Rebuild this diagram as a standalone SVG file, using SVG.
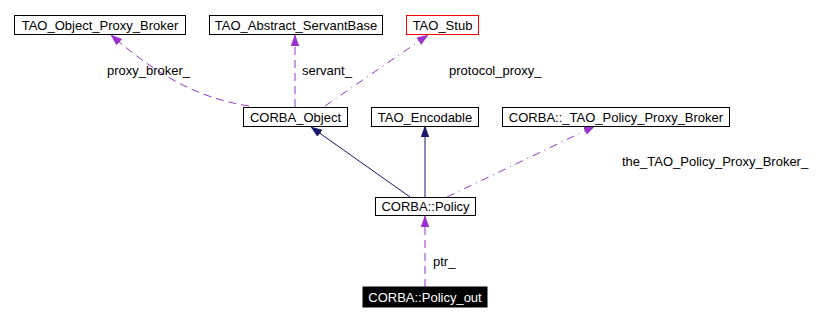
<svg xmlns="http://www.w3.org/2000/svg" width="828" height="321" viewBox="0 0 828 321">
  <style>
    text { font-family: "Liberation Sans", Arial, Helvetica, sans-serif; font-size: 13px; fill: #000; }
    .node rect { fill: #fff; stroke: #000; stroke-width: 1; }
    .node text { text-anchor: middle; }
    .edge { fill: none; stroke-width: 1; }
    .inherit { stroke: #191970; }
    .use { stroke: #9a32cd; stroke-dasharray: 8,5; }
    .usedot { stroke: #9a32cd; stroke-dasharray: 8,5,1,5; }
  </style>
  <defs>
    <marker id="arrowNavy" markerUnits="userSpaceOnUse" markerWidth="12" markerHeight="10" refX="11" refY="4" orient="auto">
      <path d="M0,0 L11,4 L0,8 Z" fill="#191970" stroke="#191970" stroke-width="0.5"/>
    </marker>
    <marker id="arrowPurple" markerUnits="userSpaceOnUse" markerWidth="12" markerHeight="10" refX="11" refY="4" orient="auto">
      <path d="M0,0 L11,4 L0,8 Z" fill="#9a32cd" stroke="#9a32cd" stroke-width="0.5"/>
    </marker>
  </defs>

  <!-- connectors -->
  <g id="edges">
    <path class="edge use" d="M249,106 C205,99 165,82 111,35" marker-end="url(#arrowPurple)"/>
    <path class="edge use" d="M295,107 L295,35" marker-end="url(#arrowPurple)"/>
    <path class="edge usedot" d="M325,106 L428,35" marker-end="url(#arrowPurple)"/>
    <path class="edge inherit" d="M410,197 L311,127" marker-end="url(#arrowNavy)"/>
    <path class="edge inherit" d="M425,197 L425,126" marker-end="url(#arrowNavy)"/>
    <path class="edge usedot" d="M447,197 L595,126" marker-end="url(#arrowPurple)"/>
    <path class="edge use" d="M425,287 L425,216" marker-end="url(#arrowPurple)"/>

    <text x="107" y="75">proxy_broker_</text>
    <text x="302" y="75">servant_</text>
    <text x="449" y="75">protocol_proxy_</text>
    <text x="622" y="166">the_TAO_Policy_Proxy_Broker_</text>
    <text x="433" y="266">ptr_</text>
  </g>

  <!-- nodes -->
  <g id="TAO_Object_Proxy_Broker" class="node">
    <rect x="14.5" y="15.5" width="171" height="19"/>
    <text x="100" y="29.5">TAO_Object_Proxy_Broker</text>
  </g>
  <g id="TAO_Abstract_ServantBase" class="node">
    <rect x="209.5" y="15.5" width="173" height="19"/>
    <text x="296" y="29.5">TAO_Abstract_ServantBase</text>
  </g>
  <g id="TAO_Stub" class="node">
    <rect x="406.5" y="15.5" width="72" height="19" style="stroke:#ff0000"/>
    <text x="442.5" y="29.5">TAO_Stub</text>
  </g>
  <g id="CORBA_Object" class="node">
    <rect x="243.5" y="107.5" width="104" height="19"/>
    <text x="295.5" y="121.5">CORBA_Object</text>
  </g>
  <g id="TAO_Encodable" class="node">
    <rect x="371.5" y="107.5" width="107" height="19"/>
    <text x="425" y="121.5">TAO_Encodable</text>
  </g>
  <g id="CORBA_TAO_Policy_Proxy_Broker" class="node">
    <rect x="502.5" y="107.5" width="227" height="19"/>
    <text x="616" y="121.5">CORBA::_TAO_Policy_Proxy_Broker</text>
  </g>
  <g id="CORBA_Policy" class="node">
    <rect x="375.5" y="197.5" width="100" height="18"/>
    <text x="425.5" y="211">CORBA::Policy</text>
  </g>
  <g id="CORBA_Policy_out" class="node">
    <rect x="363" y="287" width="124" height="20" style="fill:#000;stroke:#000"/>
    <text x="425" y="301.5" style="fill:#fff">CORBA::Policy_out</text>
  </g>
</svg>
